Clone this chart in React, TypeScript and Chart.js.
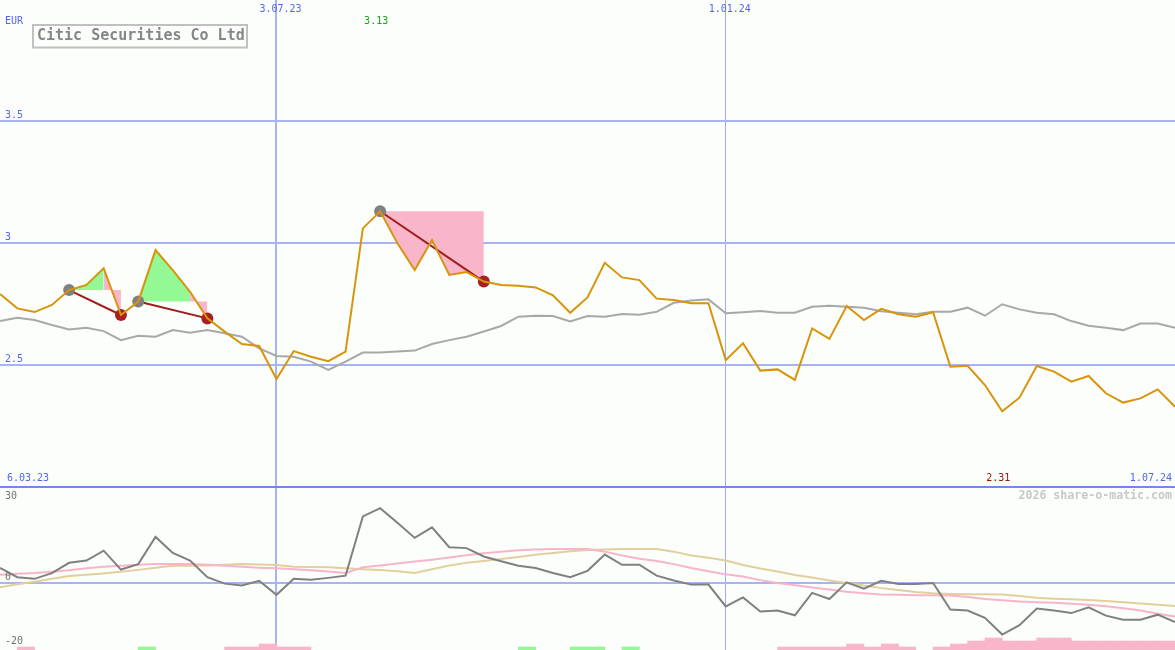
import React, { useEffect, useRef } from 'react';
import { Chart, registerables } from 'chart.js';

Chart.register(...registerables);

// ---------- data (weekly, week 0 = first point) ----------
const chartTitle = 'Citic Securities Co Ltd';
const currencyLabel = 'EUR';
const rangeStartLabel = '6.03.23';
const rangeEndLabel = '1.07.24';
const watermark = '2026 share-o-matic.com';

const dateGridWeeks = [16, 42];
const dateGridLabels = ['3.07.23', '1.01.24'];

const priceTicks = [2.5, 3, 3.5];
const panelDivider = 2.0;
const momentumTicks = [30, 0, -20];

const price = [
  2.791, 2.732, 2.717, 2.746, 2.807, 2.828, 2.896, 2.705, 2.760, 2.971,
  2.889, 2.800, 2.691, 2.637, 2.586, 2.578, 2.443, 2.557, 2.534, 2.516,
  2.555, 3.060, 3.130, 2.999, 2.889, 3.012, 2.869, 2.881, 2.842, 2.828,
  2.825, 2.818, 2.786, 2.714, 2.777, 2.919, 2.859, 2.848, 2.772, 2.766,
  2.753, 2.753, 2.520, 2.589, 2.477, 2.482, 2.439, 2.650, 2.607, 2.742,
  2.684, 2.730, 2.708, 2.698, 2.716, 2.493, 2.497, 2.418, 2.310, 2.366,
  2.496, 2.473, 2.432, 2.455, 2.384, 2.346, 2.363, 2.400, 2.329,
];

const benchmark = [
  2.680, 2.694, 2.684, 2.664, 2.646, 2.653, 2.639, 2.602, 2.620, 2.616,
  2.643, 2.632, 2.643, 2.630, 2.616, 2.568, 2.537, 2.534, 2.514, 2.480,
  2.514, 2.551, 2.551, 2.555, 2.559, 2.586, 2.602, 2.616, 2.637, 2.660,
  2.698, 2.702, 2.701, 2.678, 2.701, 2.698, 2.709, 2.706, 2.718, 2.755,
  2.764, 2.769, 2.712, 2.716, 2.721, 2.714, 2.714, 2.739, 2.743, 2.739,
  2.735, 2.720, 2.714, 2.708, 2.718, 2.718, 2.735, 2.702, 2.749, 2.728,
  2.714, 2.708, 2.680, 2.661, 2.653, 2.643, 2.670, 2.670, 2.653,
];

const momentum = [
  4.7, 1.8, 1.3, 3.1, 6.3, 7.0, 10.1, 4.2, 5.9, 14.4,
  9.4, 7.0, 1.8, -0.2, -0.8, 0.7, -3.7, 1.3, 1.0, 1.6,
  2.3, 20.8, 23.4, 18.8, 14.1, 17.4, 11.2, 10.9, 8.3, 6.8,
  5.4, 4.7, 3.1, 1.8, 3.8, 8.9, 5.7, 5.7, 2.3, 0.8,
  -0.5, -0.5, -7.3, -4.5, -8.9, -8.6, -10.1, -3.1, -5.0, 0.2,
  -1.8, 0.7, -0.3, -0.3, 0.0, -8.3, -8.6, -10.9, -16.1, -13.2,
  -8.0, -8.6, -9.4, -7.6, -10.2, -11.5, -11.5, -9.9, -12.2,
];

const momentumFastAvg = [
  2.6, 2.9, 3.1, 3.5, 4.0, 4.6, 5.1, 5.4, 5.7, 5.9,
  5.9, 5.9, 5.7, 5.4, 5.1, 4.8, 4.6, 4.3, 4.0, 3.6,
  3.1, 4.9, 5.5, 6.1, 6.7, 7.3, 8.0, 8.7, 9.3, 9.8,
  10.2, 10.5, 10.6, 10.6, 10.6, 9.8, 8.6, 7.6, 6.9, 5.9,
  4.7, 3.7, 2.7, 2.0, 0.9, 0.0, -0.7, -1.4, -2.0, -2.7,
  -3.2, -3.6, -3.7, -3.8, -3.8, -3.9, -4.4, -5.0, -5.4, -5.8,
  -6.0, -6.2, -6.5, -6.8, -7.3, -7.9, -8.6, -9.6, -10.5,
];

const momentumSlowAvg = [
  -1.3, -0.4, 0.4, 1.3, 2.2, 2.6, 3.0, 3.5, 4.1, 4.8,
  5.4, 5.4, 5.5, 5.7, 5.9, 5.8, 5.6, 5.1, 5.0, 4.9,
  4.6, 4.3, 4.1, 3.7, 3.1, 4.3, 5.5, 6.3, 6.9, 7.5,
  8.1, 8.8, 9.4, 9.9, 10.3, 10.5, 10.6, 10.6, 10.6, 9.8,
  8.6, 7.9, 7.0, 5.6, 4.5, 3.6, 2.5, 1.7, 0.8, 0.0,
  -0.8, -1.6, -2.2, -2.8, -3.2, -3.4, -3.5, -3.5, -3.6, -4.1,
  -4.6, -4.9, -5.1, -5.3, -5.6, -6.0, -6.4, -6.8, -7.2,
];

const greenBarWeeks = [8, 30, 33, 34, 36];
const greenBarLevels = [1, 1, 1, 1, 1];
const pinkBarWeeks = [1, 13, 14, 15, 16, 17, 45, 46, 47, 48, 49, 50, 51, 52, 54, 55, 56, 57, 58, 59, 60, 61, 62, 63, 64, 65, 66, 67];
const pinkBarLevels = [1, 1, 1, 2, 1, 1, 1, 1, 1, 1, 2, 1, 2, 1, 1, 2, 3, 4, 3, 3, 4, 4, 3, 3, 3, 3, 3, 3];

// signal patterns: start marker week, turning week, end marker week
const patternStart = [4, 8, 22];
const patternTurn = [6, 11, 22];
const patternEnd = [7, 12, 28];

// ---------- styles ----------
const BG = '#fbfefb';
const GRID = '#a7b3f3';
const GRID_THIN = '#9eabf3';
const DIVIDER = '#7585ee';
const BLUE_TEXT = '#5464f0';
const PRICE_COLOR = '#d8940a';
const BENCH_COLOR = '#a8a8a8';
const MOM_COLOR = '#808080';
const FAST_COLOR = '#f8b4c8';
const SLOW_COLOR = '#e2cf9e';
const GREEN_FILL = '#94f894';
const PINK_FILL = '#f9b5c9';
const CONNECT_COLOR = '#a01c1c';
const MARK_START = '#808080';
const MARK_END = '#a82020';
const MONO = '"DejaVu Sans Mono", "Liberation Mono", monospace';
const TRANSPARENT = 'rgba(0,0,0,0)';

const pts = (arr: number[], from = 0, to = arr.length - 1) =>
  arr.slice(from, to + 1).map((v, k) => ({ x: from + k, y: v }));

function buildDatasets() {
  const ds: any[] = [];
  const line = (data: any, color: string, axis: string) => ({
    type: 'line', data, borderColor: color, borderWidth: 2, pointRadius: 0,
    fill: false, yAxisID: axis, tension: 0,
  });
  ds.push(line(pts(price), PRICE_COLOR, 'y'));
  patternStart.forEach((s, k) => {
    const e = patternEnd[k];
    ds.push({
      type: 'line', data: [{ x: s, y: price[s] }, { x: e, y: price[e] }],
      borderColor: CONNECT_COLOR, borderWidth: 2, yAxisID: 'y', fill: false,
      pointRadius: 6, pointHoverRadius: 6, pointBorderWidth: 0,
      pointBackgroundColor: [MARK_START, MARK_END], pointBorderColor: [MARK_START, MARK_END],
    });
  });
  ds.push(line(pts(benchmark), BENCH_COLOR, 'y'));
  ds.push(line(pts(momentum), MOM_COLOR, 'yLow'));
  ds.push(line(pts(momentumFastAvg), FAST_COLOR, 'yLow'));
  ds.push(line(pts(momentumSlowAvg), SLOW_COLOR, 'yLow'));

  patternStart.forEach((s, k) => {
    const t = patternTurn[k];
    const e = patternEnd[k];
    const level = price[s];
    const fills: any[] = [];
    if (t > s) fills.push({ from: s, to: t, color: GREEN_FILL });
    fills.push({ from: t, to: e, color: PINK_FILL });
    const levelIndex = ds.length + fills.length;
    fills.forEach((f) => {
      ds.push({
        type: 'line', data: pts(price, f.from, f.to), borderColor: TRANSPARENT, borderWidth: 1,
        pointRadius: 0, yAxisID: 'y', tension: 0,
        fill: { target: levelIndex, above: f.color, below: f.color },
      });
    });
    const levelData: { x: number; y: number }[] = [];
    for (let i = s; i <= e; i++) levelData.push({ x: i, y: level });
    ds.push({
      type: 'line', data: levelData, borderColor: TRANSPARENT, borderWidth: 1,
      pointRadius: 0, yAxisID: 'y', fill: false,
    });
  });

  const bars = (weeks: number[], levels: number[], color: string) => ({
    type: 'bar', data: weeks.map((w, k) => ({ x: w + 0.5, y: levels[k] })),
    backgroundColor: color, borderWidth: 0, yAxisID: 'yBar', grouped: false,
    barPercentage: 1, categoryPercentage: 1,
  });
  ds.push(bars(pinkBarWeeks, pinkBarLevels, PINK_FILL));
  ds.push(bars(greenBarWeeks, greenBarLevels, GREEN_FILL));
  return ds;
}

const backgroundPlugin = {
  id: 'bg',
  beforeDraw(chart: any) {
    const { ctx, width, height } = chart;
    ctx.save();
    ctx.fillStyle = BG;
    ctx.fillRect(0, 0, width, height);
    ctx.restore();
  },
};

const labelsPlugin = {
  id: 'labels',
  afterDraw(chart: any) {
    const { ctx, scales } = chart;
    const xs = scales.x;
    const ys = scales.y;
    const yl = scales.yLow;
    const right = chart.chartArea.right;
    ctx.save();
    ctx.textBaseline = 'middle';
    ctx.font = `10px ${MONO}`;

    // currency + price ticks
    ctx.fillStyle = BLUE_TEXT;
    ctx.textAlign = 'left';
    ctx.fillText(currencyLabel, 5, 21);
    priceTicks.forEach((v) => ctx.fillText(String(v), 5, ys.getPixelForValue(v) - 5.5));

    // dates
    ctx.textAlign = 'center';
    dateGridWeeks.forEach((w, k) => ctx.fillText(dateGridLabels[k], xs.getPixelForValue(w) + 4, 9));
    const divY = ys.getPixelForValue(panelDivider);
    ctx.textAlign = 'left';
    ctx.fillText(rangeStartLabel, 7, divY - 9);
    ctx.textAlign = 'right';
    ctx.fillText(rangeEndLabel, right - 3, divY - 9);

    // max / min
    let maxI = 0, minI = 0;
    price.forEach((v, i) => { if (v > price[maxI]) maxI = i; if (v < price[minI]) minI = i; });
    ctx.textAlign = 'center';
    ctx.fillStyle = '#20a020';
    ctx.fillText(price[maxI].toFixed(2), xs.getPixelForValue(maxI) - 4, 21);
    ctx.fillStyle = '#a01010';
    ctx.fillText(price[minI].toFixed(2), xs.getPixelForValue(minI) - 4, divY - 9);

    // momentum axis labels
    ctx.fillStyle = '#707070';
    ctx.textAlign = 'left';
    momentumTicks.forEach((v) => {
      let yy = yl.getPixelForValue(v) - 6;
      if (v === momentumTicks[0]) yy = divY + 9;
      ctx.fillText(String(v), 5, yy);
    });

    // watermark
    ctx.font = `bold 11.6px ${MONO}`;
    ctx.fillStyle = '#c8c8c8';
    ctx.textAlign = 'right';
    ctx.fillText(watermark, right - 3, divY + 9);

    // title box
    ctx.strokeStyle = '#c0c0c0';
    ctx.lineWidth = 2;
    ctx.strokeRect(33, 25, 214, 22.5);
    ctx.font = `bold 15px ${MONO}`;
    ctx.fillStyle = '#868686';
    ctx.textAlign = 'left';
    ctx.fillText(chartTitle, 37, 36.5);
    ctx.restore();
  },
};

const weekAxis = (tickWeek: number, color: string, width: number) => ({
  type: 'linear', position: 'bottom', min: 0, max: price.length - 1, offset: false,
  border: { display: false },
  ticks: { display: false },
  grid: { drawTicks: false, offset: false, color, lineWidth: width },
  afterBuildTicks: (axis: any) => { axis.ticks = [{ value: tickWeek }]; },
});

export default function App() {
  const canvasRef = useRef<HTMLCanvasElement | null>(null);

  useEffect(() => {
    const canvas = canvasRef.current;
    if (!canvas) return;
    const chart = new Chart(canvas, {
      type: 'line',
      data: { datasets: buildDatasets() },
      options: {
        responsive: false,
        animation: false,
        devicePixelRatio: 1,
        events: [],
        layout: { padding: 0, autoPadding: false },
        plugins: {
          legend: { display: false },
          tooltip: { enabled: false },
          title: { display: false },
        },
        scales: {
          x: weekAxis(dateGridWeeks[0], GRID, 2),
          x2: weekAxis(dateGridWeeks[1], GRID_THIN, 1),
          y: {
            type: 'linear', position: 'left',
            min: panelDivider - 163 / 244, max: 3.5 + 121 / 244,
            border: { display: false },
            ticks: { display: false },
            grid: {
              drawTicks: false, lineWidth: 2, offset: false,
              color: (c: any) => (c.tick && c.tick.value === panelDivider ? DIVIDER : GRID),
            },
            afterBuildTicks: (axis: any) => {
              axis.ticks = [panelDivider, ...priceTicks].map((v) => ({ value: v }));
            },
          },
          yLow: {
            type: 'linear', position: 'left', min: -67 / 3.2, max: 583 / 3.2,
            border: { display: false },
            ticks: { display: false },
            grid: { drawTicks: false, lineWidth: 2, color: GRID, offset: false },
            afterBuildTicks: (axis: any) => { axis.ticks = [{ value: 0 }]; },
          },
          yBar: {
            type: 'linear', position: 'right', display: false, min: 0, max: 650 / 3,
          },
        },
      } as any,
      plugins: [backgroundPlugin, labelsPlugin],
    });
    return () => chart.destroy();
  }, []);

  return (
    <div style={{ position: 'fixed', left: 0, top: 0, width: 1175, height: 650, background: BG }}>
      <canvas ref={canvasRef} width={1175} height={650} style={{ display: 'block' }} />
    </div>
  );
}
